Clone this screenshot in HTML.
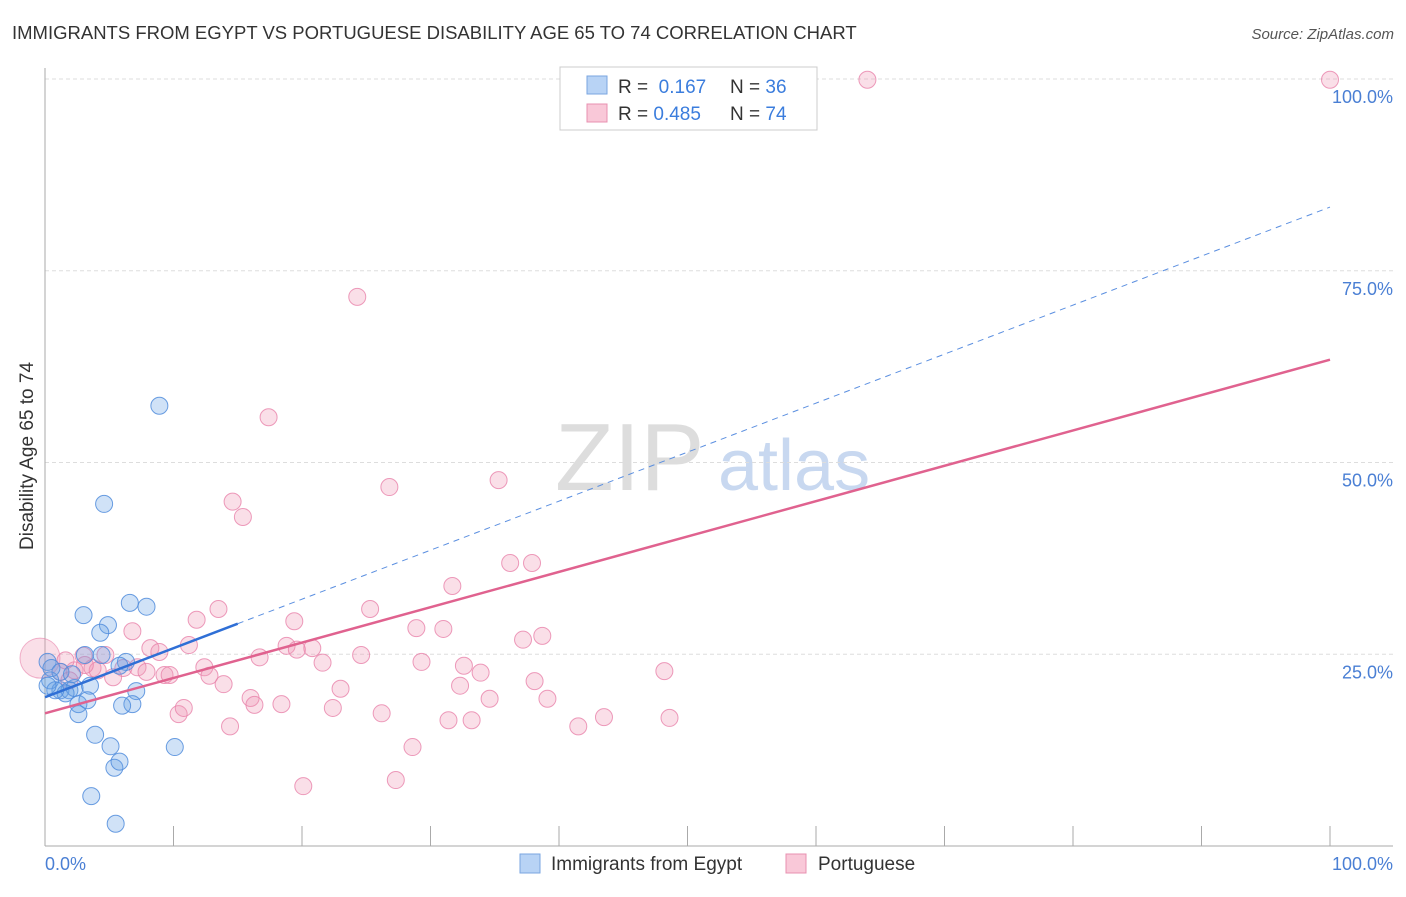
<!DOCTYPE html>
<html><head><meta charset="utf-8"><style>
body{margin:0;background:#fff;font-family:"Liberation Sans",sans-serif;}
svg text{font-family:"Liberation Sans",sans-serif;}
</style></head><body>
<svg id="c" width="1406" height="892" xmlns="http://www.w3.org/2000/svg">
<text x="12" y="39" font-size="18.5" fill="#333">IMMIGRANTS FROM EGYPT VS PORTUGUESE DISABILITY AGE 65 TO 74 CORRELATION CHART</text>
<text x="1394" y="39" font-size="15" fill="#555" text-anchor="end" font-style="italic">Source: ZipAtlas.com</text>
<text x="555" y="490" font-size="96" fill="#ddd" font-family="Liberation Serif,serif">ZIP</text>
<text x="718" y="490" font-size="72" fill="#c8d8f0">atlas</text>
<g id="grid"></g>
<g id="pts"></g>
<g id="lines"></g>
<text transform="translate(33,456) rotate(-90)" font-size="19" fill="#333" text-anchor="middle">Disability Age 65 to 74</text>
<g>
<rect x="560" y="67" width="257" height="63" fill="#fff" stroke="#ccc"/>
<rect x="587" y="76" width="20" height="18" fill="#b8d3f5" stroke="#7aa6e0"/>
<rect x="587" y="104" width="20" height="18" fill="#f9c8d8" stroke="#e890b0"/>
<text x="618" y="93" font-size="19" fill="#333">R = <tspan fill="#3b7ddd">&#160;0.167</tspan><tspan x="730">N = </tspan><tspan fill="#3b7ddd">36</tspan></text>
<text x="618" y="120" font-size="19" fill="#333">R = <tspan fill="#3b7ddd">0.485</tspan><tspan x="730">N = </tspan><tspan fill="#3b7ddd">74</tspan></text>
</g>
<g>
<rect x="520" y="854" width="20" height="19" fill="#b8d3f5" stroke="#7aa6e0"/>
<text x="551" y="870" font-size="19" fill="#333">Immigrants from Egypt</text>
<rect x="786" y="854" width="20" height="19" fill="#f9c8d8" stroke="#e890b0"/>
<text x="818" y="870" font-size="19" fill="#333">Portuguese</text>
</g>
</svg>
<script>
const xTicks=[0,10,20,30,40,50,60,70,80,90,100];
const yTicks=[25,50,75,100];
const yTickLabels=["25.0%","50.0%","75.0%","100.0%"];
const egyptX=[8.9,4.6,6.6,7.9,3.0,4.9,4.3,3.1,4.4,6.3,5.8,0.2,1.2,0.4,1.2,1.9,2.3,3.5,1.6,0.8,7.1,2.6,3.3,6.8,6.0,2.6,3.9,5.1,10.1,5.4,5.8,3.6,5.5,0.2,0.5,2.1];
const egyptY=[57.4,44.6,31.7,31.2,30.1,28.8,27.8,24.9,24.9,24.0,23.5,24.0,22.7,21.6,20.3,20.3,20.6,20.9,19.9,20.3,20.2,18.5,19.0,18.5,18.3,17.2,14.5,13.0,12.9,10.2,11.0,6.5,2.9,20.9,23.2,22.4];
const portX=[64.0,100,24.3,17.4,14.6,15.4,26.8,35.3,36.2,37.9,31.7,25.3,13.5,11.8,19.4,28.9,31.0,38.7,37.2,6.8,8.2,8.9,11.2,18.8,20.8,19.6,16.7,24.6,29.3,21.6,32.6,33.9,48.2,4.7,3.7,6.1,7.2,7.9,9.3,9.7,12.4,12.8,13.9,16.0,16.3,18.4,22.4,23.0,32.3,34.6,38.1,39.1,26.2,10.4,10.8,14.4,31.4,33.2,41.5,43.5,48.6,28.6,20.1,27.3,3.0,5.3,4.1,1.2,2.3,3.1,1.9,1.6];
const portY=[99.9,99.9,71.6,55.9,44.9,42.9,46.8,47.7,36.9,36.9,33.9,30.9,30.9,29.5,29.3,28.4,28.3,27.4,26.9,28.0,25.8,25.3,26.2,26.1,25.8,25.6,24.6,24.9,24.0,23.9,23.5,22.6,22.8,24.9,23.2,23.2,23.3,22.7,22.3,22.3,23.3,22.2,21.1,19.3,18.4,18.5,18.0,20.5,20.9,19.2,21.5,19.2,17.3,17.2,18.0,15.6,16.4,16.4,15.6,16.8,16.7,12.9,7.8,8.6,24.8,22.0,22.9,22.7,22.9,23.6,21.6,24.2];
const egyptLine=[19.4,83.3];
const portLine=[17.3,63.4];
const egyptSolidEnd=15;
const NS="http://www.w3.org/2000/svg";
const sx=v=>45+v*12.85, sy=v=>846-v*7.67;
function mk(tag,attrs,parent){const e=document.createElementNS(NS,tag);for(const k in attrs)e.setAttribute(k,attrs[k]);parent.appendChild(e);return e;}
const grid=document.getElementById('grid');
yTicks.forEach((t,i)=>{
 const l=mk('line',{x1:45,x2:1393,y1:sy(t),y2:sy(t),stroke:'#ddd','stroke-dasharray':'4,3'},grid);
 
 
 const tx=mk('text',{x:1393,y:sy(t)+24,'font-size':18,fill:'#4a7fd4','text-anchor':'end'},grid);
 tx.textContent=yTickLabels[i];
 
 
});
mk('line',{x1:45,x2:45,y1:68,y2:846,stroke:'#aaa'},grid);
mk('line',{x1:45,x2:1393,y1:846,y2:846,stroke:'#aaa'},grid);
xTicks.forEach(t=>{
 const l=mk('line',{x1:sx(t),x2:sx(t),y1:826,y2:846,stroke:'#aaa'},grid);
 
 
});
let a=mk('text',{x:45,y:870,'font-size':18,fill:'#4a7fd4'},grid);a.textContent='0.0%';


a=mk('text',{x:1393,y:870,'font-size':18,fill:'#4a7fd4','text-anchor':'end'},grid);a.textContent='100.0%';


const pts=document.getElementById('pts');
const big=mk('circle',{cx:sx(0)-5,cy:sy(24.5),r:20,fill:'rgba(240,150,180,0.3)',stroke:'rgba(232,130,170,0.6)'},pts);


portX.forEach((x,i)=>{
 const c=mk('circle',{cx:sx(x),cy:sy(portY[i]),r:8.5,fill:'rgba(240,150,180,0.3)',stroke:'rgba(232,130,170,0.8)'},pts);
 
 
});
egyptX.forEach((x,i)=>{
 const c=mk('circle',{cx:sx(x),cy:sy(egyptY[i]),r:8.5,fill:'rgba(100,160,230,0.3)',stroke:'rgba(80,140,220,0.85)'},pts);
 
 
});
const lines=document.getElementById('lines');
const ey=x=>egyptLine[0]+(egyptLine[1]-egyptLine[0])*x/100;
let l=mk('line',{x1:sx(0),y1:sy(ey(0)),x2:sx(egyptSolidEnd),y2:sy(ey(egyptSolidEnd)),stroke:'#2f6fd6','stroke-width':2.5},lines);


l=mk('line',{x1:sx(egyptSolidEnd),y1:sy(ey(egyptSolidEnd)),x2:sx(100),y2:sy(ey(100)),stroke:'#5b8fe0','stroke-width':1,'stroke-dasharray':'6,5'},lines);


l=mk('line',{x1:sx(0),y1:sy(portLine[0]),x2:sx(100),y2:sy(portLine[1]),stroke:'#e0628f','stroke-width':2.5},lines);


</script>
</body></html>
